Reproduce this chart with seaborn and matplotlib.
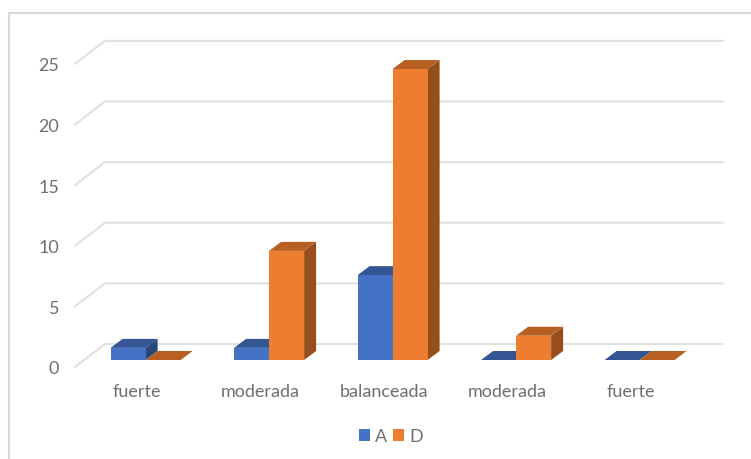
import matplotlib
matplotlib.use("Agg")
import matplotlib.pyplot as plt
import matplotlib.transforms as mtransforms
from matplotlib.lines import Line2D
from matplotlib.patches import Polygon
import pandas as pd
import seaborn as sns

categories = ["fuerte", "moderada", "balanceada", "moderada", "fuerte"]
values_a = [1, 1, 7, 0, 0]
values_d = [0, 9, 24, 2, 0]
y_ticks = [0, 5, 10, 15, 20, 25]

FIG_W, FIG_H = 751, 459
TEXT = "#6f6f6f"
GRID = "#e0e0e0"
FRAME = "#d9d9d9"
COLORS = {"A": "#4472C4", "D": "#ED7D31"}
TOPS = {"A": "#335593", "D": "#B86023"}
SIDES = {"A": "#2A4779", "D": "#964E1C"}
BAR_DEPTH = (12, 9)

sns.set_theme(style="white")
plt.rcParams["font.family"] = ["Lato", "DejaVu Sans"]
plt.rcParams["font.size"] = 12

n = len(categories)
df = pd.DataFrame({
    "pos": list(range(n)) * 2,
    "serie": ["A"] * n + ["D"] * n,
    "valor": values_a + values_d,
})

fig = plt.figure(figsize=(FIG_W / 100, FIG_H / 100), dpi=100, facecolor="white")

# plot area in pixel terms: x 75..723, floor of the bars at y=360
left, right, top, bottom = 75, 723, 41, 360
ax = fig.add_axes([left / FIG_W, 1 - bottom / FIG_H,
                   (right - left) / FIG_W, (bottom - top) / FIG_H])
ax.patch.set_alpha(0)

sns.barplot(data=df, x="pos", y="valor", hue="serie", hue_order=["A", "D"],
            palette=COLORS, width=0.567, gap=0, dodge=True, saturation=1,
            errorbar=None, ax=ax, zorder=6, linewidth=0)

ax.set_xlim((left - 145.6) / 123.5, (right - 145.6) / 123.5)
ax.set_ylim(0, (bottom - top) / 12.125)
sns.despine(ax=ax, left=True, bottom=True)
ax.set_xlabel("")
ax.set_ylabel("")


def to_px(x, y):
    return ax.transData.transform((x, y))


# floor-to-back grid: short slanted run on the side wall, then the back wall
pixel = mtransforms.IdentityTransform()
for v in y_ticks:
    _, py = to_px(0, v)
    ax.add_line(Line2D([left, left + 30, right], [py - 7, py + 16, py + 16],
                       transform=pixel, color=GRID, lw=1.5, zorder=1,
                       clip_on=False))

# extruded top and side faces of every bar
dx, dy = BAR_DEPTH
for level, (name, container) in enumerate(zip(["A", "D"], ax.containers)):
    for bar in container:
        x0, x1 = bar.get_x(), bar.get_x() + bar.get_width()
        h = bar.get_height()
        (ax0, ay0), (ax1, ay1) = to_px(x0, 0), to_px(x1, h)
        z = 3 + 2 * level
        bar.set_zorder(z + 1)
        ax.add_patch(Polygon(
            [(ax0, ay1), (ax1, ay1), (ax1 + dx, ay1 + dy), (ax0 + dx, ay1 + dy)],
            closed=True, facecolor=TOPS[name], edgecolor="none",
            transform=pixel, zorder=z, clip_on=False))
        if h > 0:
            ax.add_patch(Polygon(
                [(ax1, ay0), (ax1 + dx, ay0 + dy), (ax1 + dx, ay1 + dy), (ax1, ay1)],
                closed=True, facecolor=SIDES[name], edgecolor="none",
                transform=pixel, zorder=z, clip_on=False))

# tick labels sit in front of the floor, so they are shifted off their anchors
ax.set_yticks(y_ticks)
ax.set_xticks(range(n))
ax.set_xticklabels(categories)
ax.tick_params(axis="y", length=0, pad=11.5, labelcolor=TEXT, labelsize=13)
ax.tick_params(axis="x", length=0, pad=17, labelcolor=TEXT, labelsize=13)
shift_y = mtransforms.ScaledTranslation(0, -8 / 100, fig.dpi_scale_trans)
shift_x = mtransforms.ScaledTranslation(-9 / 100, 0, fig.dpi_scale_trans)
for label in ax.get_yticklabels():
    label.set_transform(label.get_transform() + shift_y)
for label in ax.get_xticklabels():
    label.set_transform(label.get_transform() + shift_x)

ax.legend(loc="center", bbox_to_anchor=(391 / FIG_W, 1 - 436.5 / FIG_H),
          bbox_transform=fig.transFigure, ncol=2, frameon=False, title=None,
          handlelength=0.61, handleheight=0.61, handletextpad=0.3,
          columnspacing=0.33, labelcolor=TEXT, fontsize=13,
          borderpad=0, borderaxespad=0)

# outer chart border, visible on the top and left only
for xs, ys in [((9, FIG_W), (13, 13)), ((9, 9), (13, FIG_H))]:
    fig.add_artist(Line2D([x / FIG_W for x in xs], [1 - y / FIG_H for y in ys],
                          color=FRAME, lw=1.5))

fig.savefig("out.png", dpi=100, facecolor="white")
